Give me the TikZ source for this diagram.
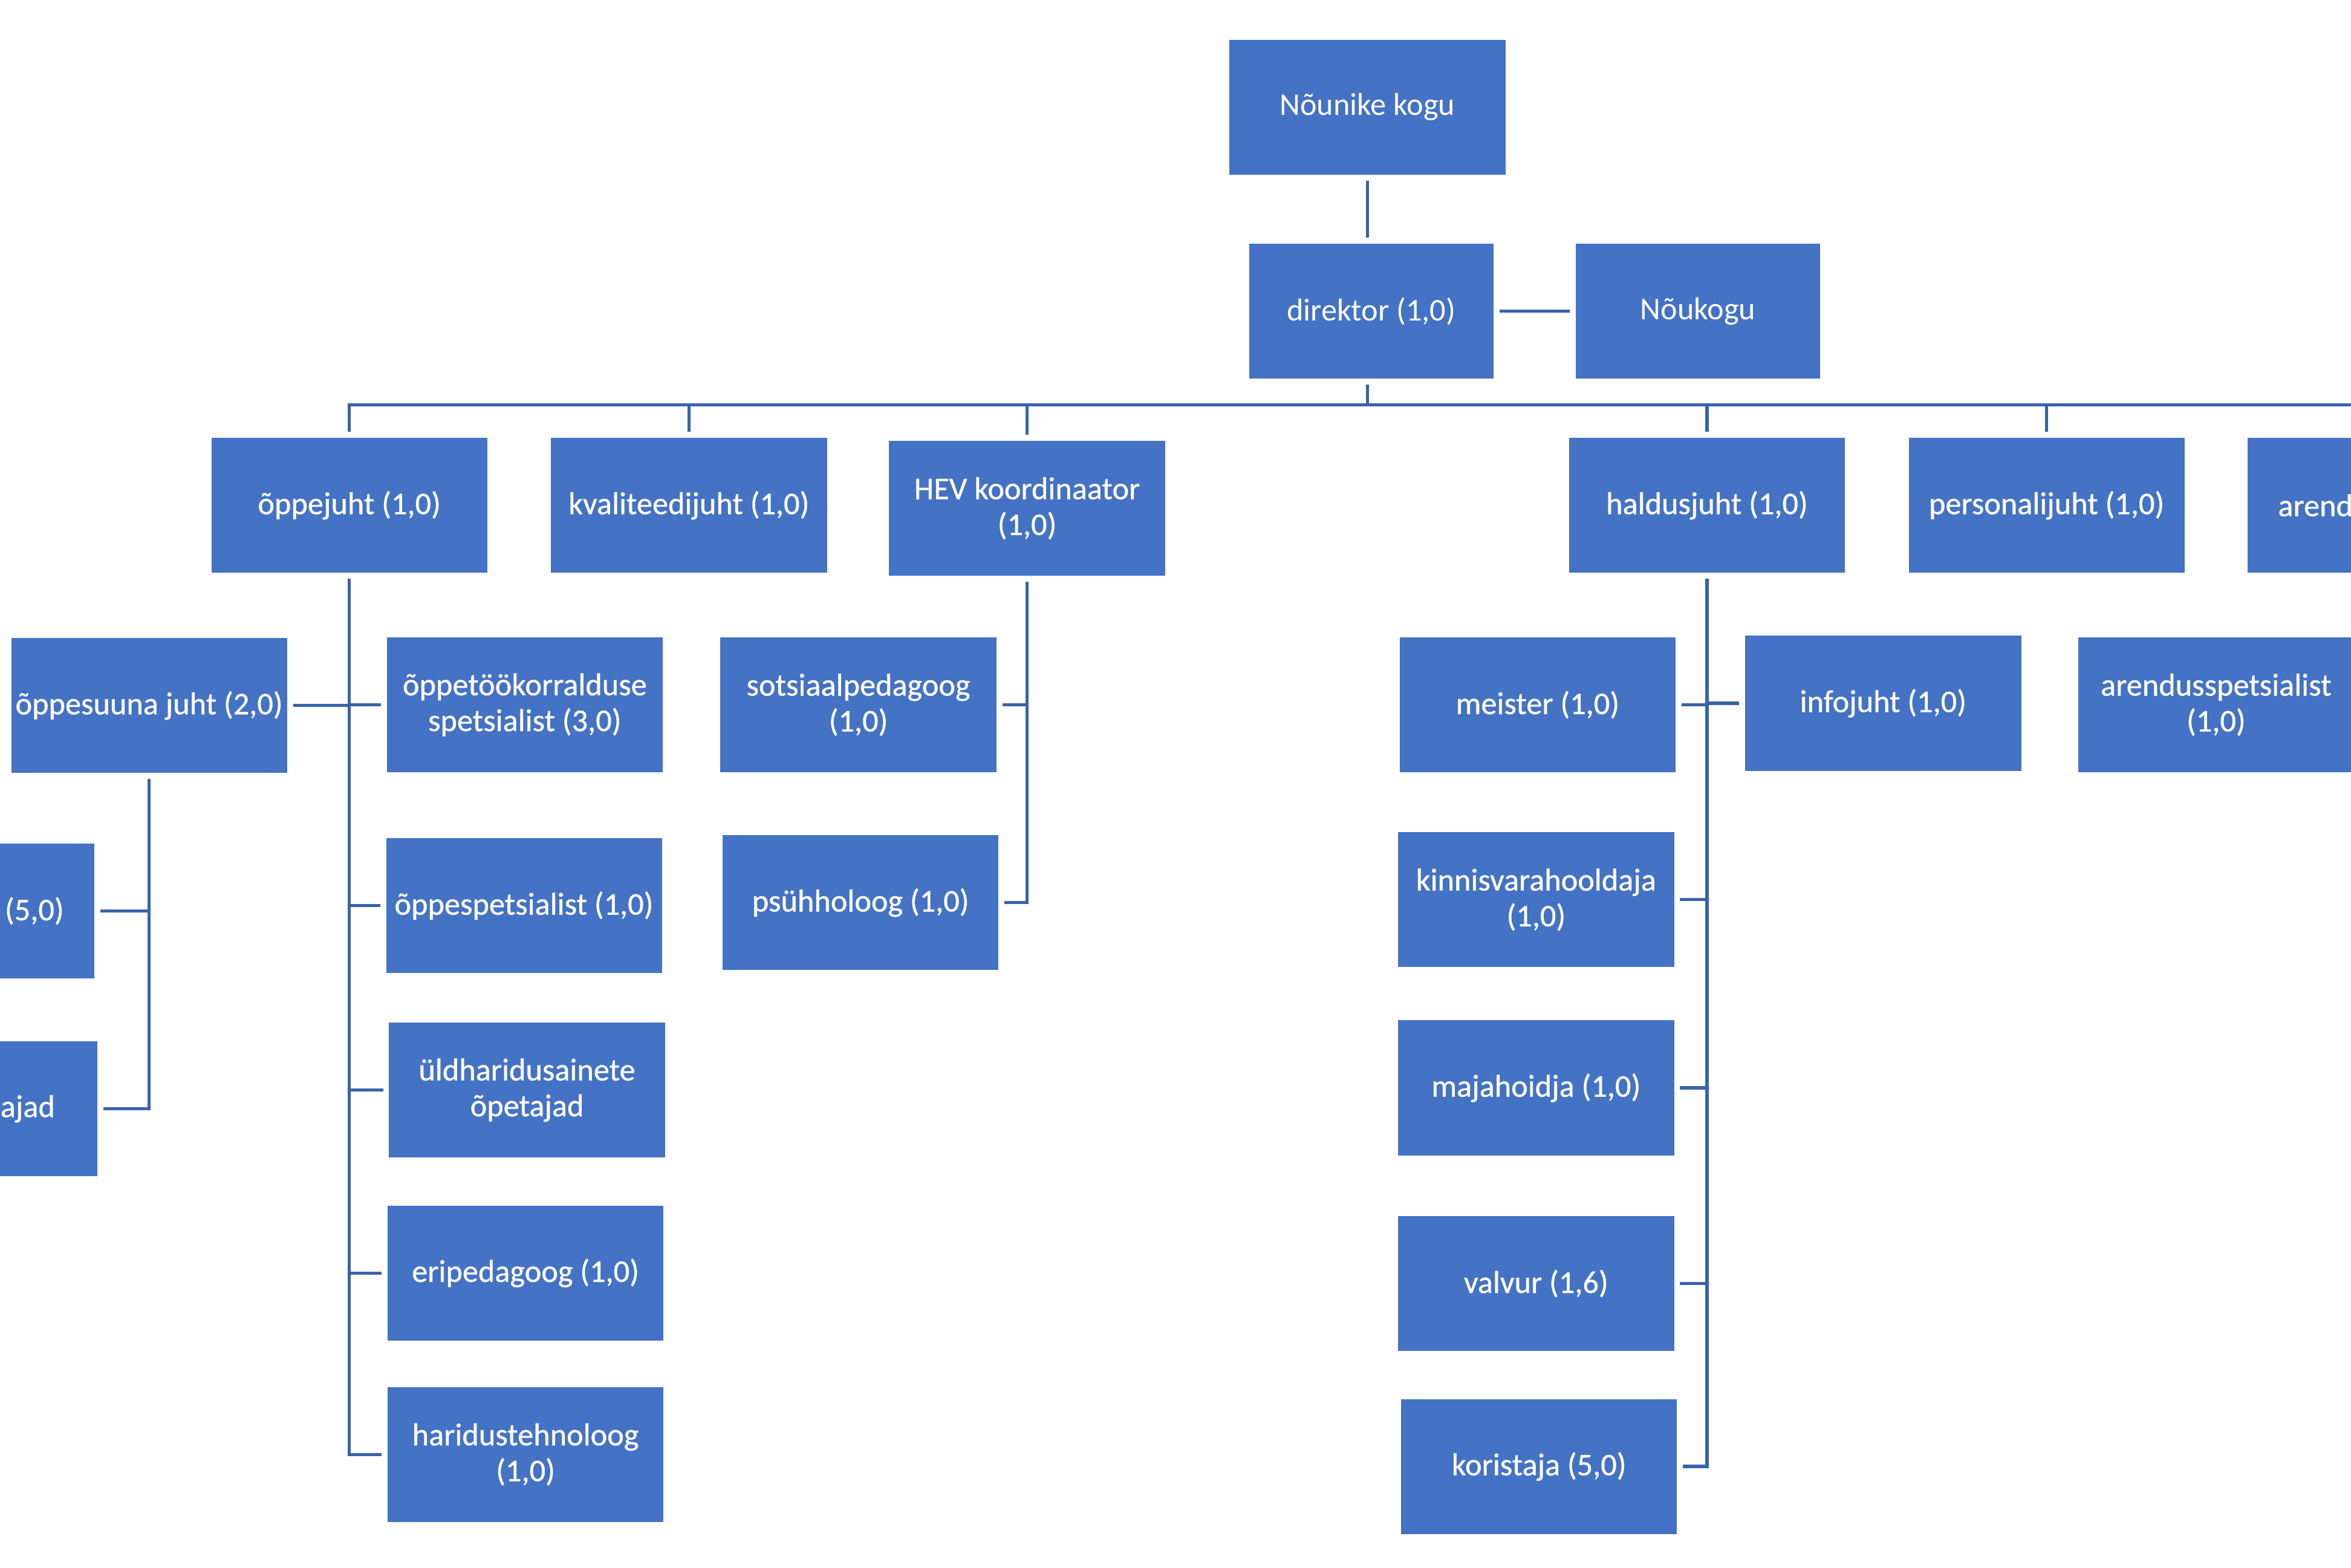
\documentclass[tikz,border=0pt]{standalone}
\usepackage{fontspec}
\setmainfont{Carlito}
\newfontfamily\unitfont{Carlito}[FakeBold=0.7]
\usepackage{xcolor}
\usepackage{tikz}

\definecolor{boxblue}{HTML}{4472C4}
\definecolor{lineblue}{HTML}{3A62AA}

\begin{document}
\begin{tikzpicture}[
    unit/.style={rectangle, fill=boxblue, text=white, minimum width=3.68cm, minimum height=1.8cm,
      inner sep=0pt, outer sep=0.08cm, align=center, font=\unitfont\fontsize{12}{13.6}\selectfont},
    topunit/.style={unit, minimum width=3.26cm, font=\fontsize{12}{13.6}\selectfont},
    unittext/.style={text=white, inner sep=0pt, font=\unitfont\fontsize{12}{13.6}\selectfont},
    link/.style={draw=lineblue, line width=1.2pt}
    ]
    \useasboundingbox (0,0) rectangle (31.36,-20.907);
    \clip (0,0) rectangle (31.36,-20.907);
    \fill[white] (0,0) rectangle (31.36,-20.907);

    \node[unit, font=\fontsize{12}{13.6}\selectfont] (kogu) at (18.24,-1.43) {Nõunike kogu};
    \node[topunit] (direktor) at (18.29,-4.15) {direktor (1,0)};
    \node[topunit] (noukogu) at (22.65,-4.15) {Nõukogu};

    \node[unit] (oppejuht) at (4.66,-6.74) {õppejuht (1,0)};
    \node[unit] (kvaliteedijuht) at (9.19,-6.74) {kvaliteedijuht (1,0)};
    \node[unit] (hev) at (13.70,-6.78) {HEV koordinaator\\(1,0)};
    \node[unit] (haldusjuht) at (22.77,-6.74) {haldusjuht (1,0)};
    \node[unit] (personalijuht) at (27.30,-6.74) {personalijuht (1,0)};
    \node[unit] (arendjuht) at (31.82,-6.74) {};
    \node[unittext, anchor=west] (arendtext) at ([xshift=0.48cm]arendjuht.west) {arend};

    \node[unit] (oppesuunajuht) at (1.99,-9.41) {õppesuuna juht (2,0)};
    \node[unit] (oppetoo) at (7.00,-9.40) {õppetöökorralduse\\spetsialist (3,0)};
    \node[unit] (oppespets) at (6.99,-12.08) {õppespetsialist (1,0)};
    \node[unit] (yldharidus) at (7.03,-14.54) {üldharidusainete\\õpetajad};
    \node[unit] (eripedagoog) at (7.01,-16.98) {eripedagoog (1,0)};
    \node[unit] (haridustehnoloog) at (7.01,-19.40) {haridustehnoloog\\(1,0)};

    \node[unit] (opetajad) at (-0.58,-12.15) {};
    \node[unittext, anchor=east] (opetajadtext) at ([xshift=-0.48cm]opetajad.east) {(5,0)};
    \node[unit] (ajad) at (-0.54,-14.79) {};
    \node[unittext, anchor=east] (ajadtext) at ([xshift=-0.64cm]ajad.east) {ajad};

    \node[unit] (sotsiaal) at (11.45,-9.40) {sotsiaalpedagoog\\(1,0)};
    \node[unit] (psyhholoog) at (11.48,-12.04) {psühholoog (1,0)};

    \node[unit] (meister) at (20.51,-9.40) {meister (1,0)};
    \node[unit] (kinnisvara) at (20.49,-12.00) {kinnisvarahooldaja\\(1,0)};
    \node[unit] (majahoidja) at (20.49,-14.51) {majahoidja (1,0)};
    \node[unit] (valvur) at (20.49,-17.12) {valvur (1,6)};
    \node[unit] (koristaja) at (20.53,-19.56) {koristaja (5,0)};
    \node[unit] (infojuht) at (25.12,-9.38) {infojuht (1,0)};
    \node[unit] (arendusspets) at (29.56,-9.40) {arendusspetsialist\\(1,0)};

    \coordinate (bus) at (0,-5.40);
    \draw[link] (kogu.south) -- (kogu.south |- direktor.north);
    \draw[link] (direktor.east) -- (noukogu.west);
    \draw[link] (kogu.south |- direktor.south) -- (kogu.south |- bus);
    \draw[link] (oppejuht.north) |- (arendjuht.north |- bus);
    \foreach \n in {kvaliteedijuht,hev,haldusjuht,personalijuht,arendjuht}
      \draw[link] (\n.north) -- (\n.north |- bus);

    \draw[link] (oppejuht.south) |- (haridustehnoloog.west);
    \foreach \n in {oppetoo,oppespets,yldharidus,eripedagoog}
      \draw[link] (\n.west) -- (\n.west -| oppejuht.south);
    \draw[link] (oppesuunajuht.east) -- (oppesuunajuht.east -| oppejuht.south);

    \draw[link] (oppesuunajuht.south) |- (ajad.east);
    \draw[link] (opetajad.east) -- (opetajad.east -| oppesuunajuht.south);

    \draw[link] (hev.south) |- (psyhholoog.east);
    \draw[link] (sotsiaal.east) -- (sotsiaal.east -| hev.south);

    \draw[link] (haldusjuht.south) |- (koristaja.east);
    \foreach \n in {meister,kinnisvara,majahoidja,valvur}
      \draw[link] (\n.east) -- (\n.east -| haldusjuht.south);
    \draw[link] (infojuht.west) -- (infojuht.west -| haldusjuht.south);
\end{tikzpicture}
\end{document}
